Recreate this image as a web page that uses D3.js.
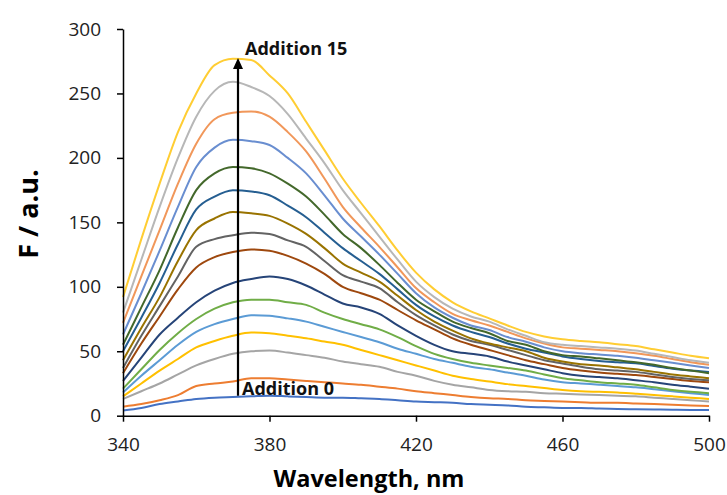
<!DOCTYPE html>
<html>
<head>
<meta charset="utf-8">
<script src="https://cdn.jsdelivr.net/npm/d3@7"></script>
<style>
  html, body { margin: 0; padding: 0; background: #fff; }
  svg { display: block; }
  .tick text { font-family: "Open Sans", sans-serif; font-size: 19px; fill: #222; }
</style>
</head>
<body>
<svg id="chart" width="727" height="495"></svg>
<script>
// Excitation wavelengths (nm)
const wavelengths = [340,345,350,355,360,365,370,375,380,385,390,395,400,405,410,415,420,425,430,435,440,445,450,455,460,465,470,475,480,485,490,495,500];

// Fluorescence intensity (a.u.) after each addition
const add0  = [4,6,9,11,13,14,14.5,15,15.5,15,14.5,14,14,13.5,13,12,11,10.5,10,9,8.5,8,7,6.5,6,6,5.5,5.2,5,4.8,4.6,4.5,4.4];
const add1  = [7,9,12,16,23,25,26.5,29,29,28,27,26,25,24,22.5,21,19,17.5,16,14.5,13.5,13,12,11.5,11,10.5,10,10,9.5,9,8.5,8,7.5];
const add2  = [13,19,25,32,39,44,48,50,50.5,49,47,45,42,40,38,34,31,27,24,22,20,19,18.5,17.5,17,16.5,16,15.5,15,14,13,12,11];
const add3  = [15,25,35,44,53,58,62,64.5,64,62,60,57.5,55,51,47,43,39,35,31,28.5,26.5,24.5,23,21.5,20,19,18.5,18,17,16,15,14,13];
const add4  = [18,31,43,55,65,71,75,78,77.5,75.5,73,69,65,61,57,52,48,44,41,38,36,33.5,31,28,26,25,24,23,22,20.5,19,17.5,16];
const add5  = [21,36,51,64,75,83,88,90,90,88,86,80,75,71,67,61,54,48,44,41,39,37,35,32,29,27.5,26,25,24,22,20,18.5,17.5];
const add6  = [27,45,63,76,88,97,103,106,108,106,101,94,87,84,79,70,62,55,50,48,46,42,39,36,33,31,30,29,27.5,26,24,22.5,21];
const add7  = [33,56,77,98,115,123,127,129,128,124,118,110,100,95,90,82,74,67,60,55,51,47,43,40,37,35,33.5,32.5,31.5,30,28.5,27,26];
const add8  = [37,62,85,108,131,137,140,142,141,136,131,120,109,104,99,88,78,70,63,58,55,51,47,43,40.5,38,36,35,34,32,30,28.5,27.5];
const add9  = [43,68,92,120,144,153,158,157,155,149,141,130,118,111,104,93,82,73,66,60,56,53,50,45,42,40,39,37.5,36,34,32,30.5,29];
const add10 = [50,76,103,133,160,170,175,174,171,163,154,142,130,120,110,98,86,77,70,65,61,56,52,49,46,44,42.5,41.5,40.6,38.5,36.5,35,34];
const add11 = [55,84,113,146,175,188,193,192,188,180,170,156,141,130,117,103,90,81,73,68,64,58,55,50,47,46,44.5,43,41.5,39.5,37,35,33];
const add12 = [63,95,128,162,193,208,214,213,210,200,188,171,153,139,125,110,95,84,76,70,66.5,61,57.4,53,50,48.5,47.5,46.5,45,43,41,39,37];
const add13 = [72,108,144,180,211,230,235,236,232,220,205,184,162,146,131,115,99,88,79,74,70,65,60,56,53,52,51,50,48.5,46.5,44,41.5,39.5];
const add14 = [80,121,162,200,232,252,259,255,248,234,215,196,175,157,139,121,104,92,83,77,73,67,62,57,55,54,53,52,50.5,48,45.5,43,41];
const add15 = [92,137,180,220,250,272,277,276,264,250,228,206,184,165,147,128,111,98,88,81,75.5,70,65,61.5,59.3,58,57,55.5,54,51.5,49,46.5,44.5];

const spectra = [add0, add1, add2, add3, add4, add5, add6, add7, add8, add9, add10, add11, add12, add13, add14, add15];

// Axis ticks
const xTicks = [340, 380, 420, 460, 500];
const yTicks = [0, 50, 100, 150, 200, 250, 300];

// Arrow marking the trend from the first to the last addition
const arrowWavelength = 371.4;
const arrowFrom = 15.5;
const arrowTo = 277.5;
const labelFirst = "Addition 0";
const labelLast = "Addition 15";

// Series palette
const palette = ["#4472C4","#ED7D31","#A5A5A5","#FFC000","#5B9BD5","#70AD47","#264478","#9E480E",
                 "#636363","#997300","#255E91","#43682B","#698ED0","#F1975A","#B7B7B7","#FFCD33"];

const svg = d3.select("#chart");
const x = d3.scaleLinear().domain([340, 500]).range([123, 709]);
const y = d3.scaleLinear().domain([0, 300]).range([415.7, 29]);

// Spectra
const line = d3.line()
  .x((d, i) => x(wavelengths[i]))
  .y(d => y(d))
  .curve(d3.curveMonotoneX);

svg.append("g")
  .selectAll("path")
  .data(spectra)
  .join("path")
  .attr("d", line)
  .attr("fill", "none")
  .attr("stroke", (d, i) => palette[i])
  .attr("stroke-width", 2)
  .attr("stroke-linejoin", "round");

// Axes
const xAxis = svg.append("g")
  .attr("transform", `translate(0,${y(0)})`)
  .call(d3.axisBottom(x).tickValues(xTicks).tickSize(6).tickPadding(16).tickSizeOuter(0));
const yAxis = svg.append("g")
  .attr("transform", `translate(${x(340)},0)`)
  .call(d3.axisLeft(y).tickValues(yTicks).tickSize(6).tickPadding(16).tickSizeOuter(0));
[xAxis, yAxis].forEach(g => {
  g.select(".domain").attr("stroke", "#000").attr("stroke-width", 1.5);
  g.selectAll(".tick line").attr("stroke", "#000").attr("stroke-width", 1.5);
});

// Arrow
const ax = x(arrowWavelength);
const tipY = y(arrowTo);
svg.append("line")
  .attr("x1", ax).attr("x2", ax)
  .attr("y1", y(arrowFrom)).attr("y2", tipY + 8)
  .attr("stroke", "#000").attr("stroke-width", 2.2);
svg.append("path")
  .attr("d", `M${ax},${tipY} L${ax - 5},${tipY + 11} L${ax + 5},${tipY + 11} Z`)
  .attr("fill", "#000");

svg.append("text")
  .attr("x", ax + 7).attr("y", tipY - 3)
  .attr("font-family", "Open Sans, sans-serif").attr("font-weight", "bold")
  .attr("font-size", 18).attr("fill", "#111")
  .text(labelLast);
svg.append("text")
  .attr("x", ax + 4).attr("y", y(arrowFrom) - 1)
  .attr("font-family", "Open Sans, sans-serif").attr("font-weight", "bold")
  .attr("font-size", 18).attr("fill", "#111")
  .text(labelFirst);

// Axis titles
svg.append("text")
  .attr("x", 369).attr("y", 487)
  .attr("text-anchor", "middle")
  .attr("font-family", "Open Sans, sans-serif").attr("font-weight", "bold")
  .attr("font-size", 23.5).attr("fill", "#000")
  .text("Wavelength, nm");
svg.append("text")
  .attr("transform", "translate(38,214) rotate(-90)")
  .attr("text-anchor", "middle")
  .attr("font-family", "Open Sans, sans-serif").attr("font-weight", "bold")
  .attr("font-size", 27).attr("fill", "#000")
  .text("F / a.u.");
</script>
</body>
</html>
